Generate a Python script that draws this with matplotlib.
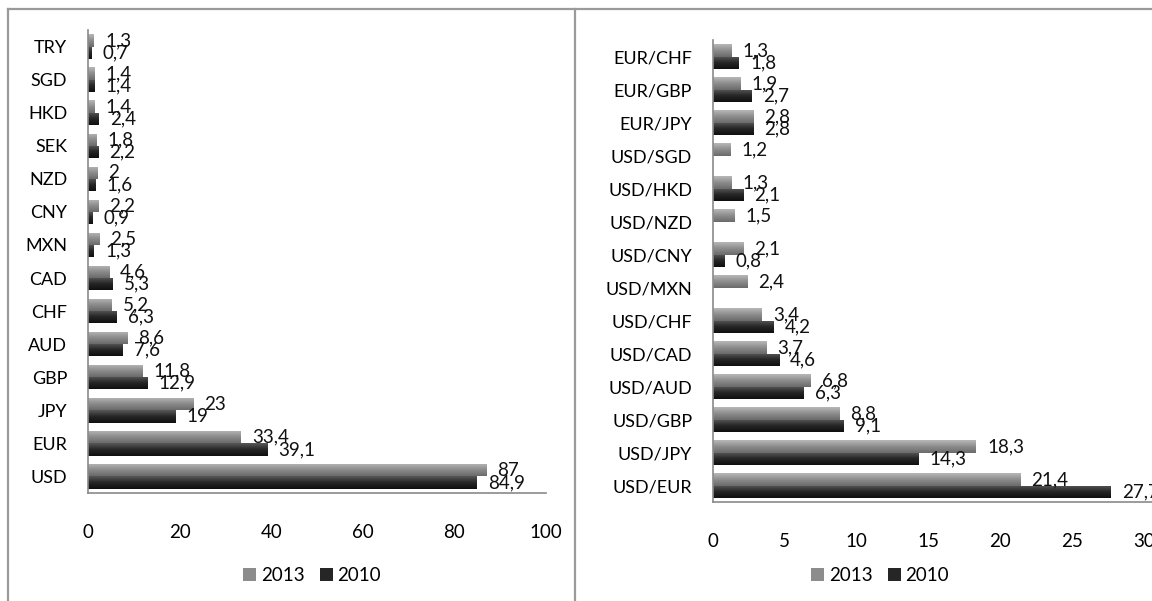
import numpy as np
import matplotlib
matplotlib.use('Agg')
import matplotlib.pyplot as plt
from matplotlib.lines import Line2D
from matplotlib.patches import Patch
from matplotlib.colors import LinearSegmentedColormap

plt.rcParams['font.family'] = ['Lato', 'DejaVu Sans']

# currencies (share of turnover, %)
currencies = ['TRY', 'SGD', 'HKD', 'SEK', 'NZD', 'CNY', 'MXN', 'CAD', 'CHF',
              'AUD', 'GBP', 'JPY', 'EUR', 'USD']
cur_2013 = [1.3, 1.4, 1.4, 1.8, 2, 2.2, 2.5, 4.6, 5.2, 8.6, 11.8, 23, 33.4, 87]
cur_2010 = [0.7, 1.4, 2.4, 2.2, 1.6, 0.9, 1.3, 5.3, 6.3, 7.6, 12.9, 19, 39.1, 84.9]

# currency pairs
pairs = ['EUR/CHF', 'EUR/GBP', 'EUR/JPY', 'USD/SGD', 'USD/HKD', 'USD/NZD',
         'USD/CNY', 'USD/MXN', 'USD/CHF', 'USD/CAD', 'USD/AUD', 'USD/GBP',
         'USD/JPY', 'USD/EUR']
pair_2013 = [1.3, 1.9, 2.8, 1.2, 1.3, 1.5, 2.1, 2.4, 3.4, 3.7, 6.8, 8.8, 18.3, 21.4]
pair_2010 = [1.8, 2.7, 2.8, None, 2.1, None, 0.8, None, 4.2, 4.6, 6.3, 9.1, 14.3, 27.7]

FS = 13.5
grey_cmap = LinearSegmentedColormap.from_list('g', ['#b8b8b8', '#8c8c8c', '#6a6a6a'])
black_cmap = LinearSegmentedColormap.from_list('k', ['#585858', '#262626', '#0f0f0f'])
grad = np.linspace(0, 1, 64).reshape(-1, 1)


def fmt(v):
    return f'{v:g}'.replace('.', ',')


def draw_panel(ax, cats, s13, s10, xmax, ticks):
    y = np.arange(len(cats))
    h = 0.37
    for i, (a, b) in enumerate(zip(s13, s10)):
        for val, off, cmap in ((a, -h / 2, grey_cmap), (b, h / 2, black_cmap)):
            if val is None:
                continue
            bar = ax.barh(y[i] + off, val, height=h, color='none', edgecolor='none')[0]
            y0, y1 = y[i] + off - h / 2, y[i] + off + h / 2
            im = ax.imshow(grad, cmap=cmap, aspect='auto', interpolation='bilinear',
                           extent=(0, val, y1, y0), zorder=2)
            im.set_clip_path(bar)
            ax.annotate(fmt(val), (val, y[i] + off), xytext=(8, 0),
                        textcoords='offset points', va='center', ha='left',
                        fontsize=FS, color='#111111', zorder=3)
    ax.set_xlim(0, xmax)
    ax.set_ylim(len(cats) - 0.5, -0.5)
    ax.set_yticks(y)
    ax.set_yticklabels(cats, fontsize=FS - 0.5)
    ax.set_xticks(ticks)
    ax.set_xticklabels([str(t) for t in ticks], fontsize=FS)
    ax.tick_params(axis='y', length=0, pad=15)
    ax.tick_params(axis='x', length=0, pad=22)
    for s in ('top', 'right'):
        ax.spines[s].set_visible(False)
    for s in ('left', 'bottom'):
        ax.spines[s].set_color('#8a8a8a')
        ax.spines[s].set_linewidth(1.2)


fig = plt.figure(figsize=(11.52, 6.01), dpi=100)
ax1 = fig.add_axes([0.0764, 0.1797, 0.3976, 0.7704])
ax2 = fig.add_axes([0.6189, 0.1647, 0.3741, 0.7687])
draw_panel(ax1, currencies, cur_2013, cur_2010, 100, [0, 20, 40, 60, 80, 100])
draw_panel(ax2, pairs, pair_2013, pair_2010, 30, [0, 5, 10, 15, 20, 25, 30])
ax2.spines['bottom'].set_bounds(0, 31)
ax2.spines['bottom'].set_clip_on(False)

handles = [Patch(facecolor='#8c8c8c', label='2013'), Patch(facecolor='#262626', label='2010')]
for xc in (0.271, 0.764):
    fig.legend(handles=handles, loc='center', bbox_to_anchor=(xc, 0.043), ncol=2,
               frameon=False, fontsize=FS, handlelength=0.7, handleheight=0.7,
               handletextpad=0.25, columnspacing=0.8)

# spreadsheet frame around the two charts
frame = dict(color='#9a9a9a', lw=1.6, transform=fig.transFigure)
fig.add_artist(Line2D([0.007, 1], [0.985, 0.985], **frame))
fig.add_artist(Line2D([0.007, 0.007], [0, 0.985], **frame))
fig.add_artist(Line2D([0.499, 0.499], [0, 0.985], **frame))

fig.savefig('out.png', dpi=100)
